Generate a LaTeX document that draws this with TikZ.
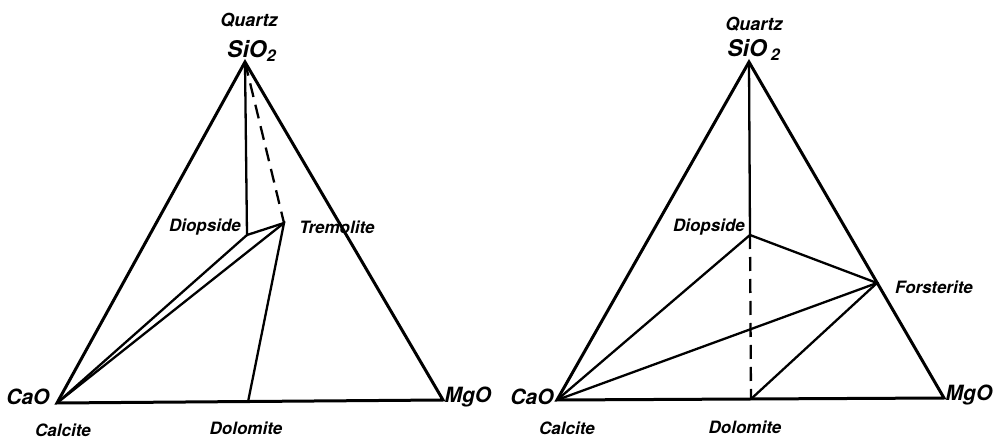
\documentclass[tikz,border=0pt]{standalone}
\usepackage{fontspec}
\setmainfont{TeX Gyre Heros}
\usetikzlibrary{positioning}
\tikzset{
  side/.style={line width=1.5pt, line join=miter},
  tie/.style={line width=1.15pt},
  mineral/.style={font=\bfseries\itshape\fontsize{8.5}{9}\selectfont, inner sep=1pt},
  oxide/.style={font=\bfseries\itshape\fontsize{10.5}{12}\selectfont, inner sep=1pt},
}

\begin{document}
\begin{tikzpicture}[x=0.5pt,y=-0.5pt]
  \useasboundingbox (0,0) rectangle (997,438);

  % ===== LEFT panel: tremolite =====
  \coordinate (lsio) at (245,62);
  \coordinate (lcao) at (57,403);
  \coordinate (lmgo) at (443,400);
  \coordinate (ldio) at (247,235);
  \coordinate (ltrem) at (284,223);
  \coordinate (ldol) at (248,402);
  \draw[side] (lcao) -- (lsio) -- (lmgo) -- cycle;
  \draw[tie] (lsio) -- (ldio) -- (ltrem) -- (ldol);
  \draw[tie,dash pattern=on 7pt off 4pt] (lsio) -- (ltrem);
  \draw[tie] (lcao) -- (ldio);
  \draw[tie] (lcao) -- (ltrem);
  \node[mineral,font=\bfseries\itshape\fontsize{9}{9}\selectfont] (lquartz) at (249,20) {Quartz};
  \node[oxide,font=\bfseries\itshape\fontsize{11.5}{12}\selectfont] (lsiolbl) at (252,51) {SiO\textsubscript{2}};
  \node[mineral] (ldiolbl) at (205,227) {Diopside};
  \node[mineral] (ltremlbl) at (337,227) {Tremolite};
  \node[oxide] (lcaolbl) at (28,397) {CaO};
  \node[oxide] (lmgolbl) at (468,397) {MgO};
  \node[mineral] (lcalc) at (63,430) {Calcite};
  \node[mineral] (ldollbl) at (246,428) {Dolomite};

  % ===== RIGHT panel: forsterite =====
  \coordinate (rsio) at (749,62);
  \coordinate (rcao) at (557,400);
  \coordinate (rmgo) at (944,398);
  \coordinate (rdio) at (750,235);
  \coordinate (rfor) at (877,283);
  \coordinate (rdol) at (751,399);
  \draw[side] (rcao) -- (rsio) -- (rmgo) -- cycle;
  \draw[tie] (rsio) -- (rdio) -- (rfor) -- (rdol);
  \draw[tie,dash pattern=on 7pt off 4pt] (rdio) -- (rdol);
  \draw[tie] (rcao) -- (rdio);
  \draw[tie] (rcao) -- (rfor);
  \node[mineral,font=\bfseries\itshape\fontsize{9}{9}\selectfont] (rquartz) at (754,24) {Quartz};
  \node[oxide,font=\bfseries\itshape\fontsize{11.5}{12}\selectfont] (rsiolbl) at (754,50) {SiO\,\textsubscript{2}};
  \node[mineral] (rdiolbl) at (709,227) {Diopside};
  \node[mineral] (rforlbl) at (934,287) {Forsterite};
  \node[oxide] (rcaolbl) at (532,397) {CaO};
  \node[oxide] (rmgolbl) at (969,395) {MgO};
  \node[mineral] (rcalc) at (567,428) {Calcite};
  \node[mineral] (rdollbl) at (745,427) {Dolomite};
\end{tikzpicture}
\end{document}
